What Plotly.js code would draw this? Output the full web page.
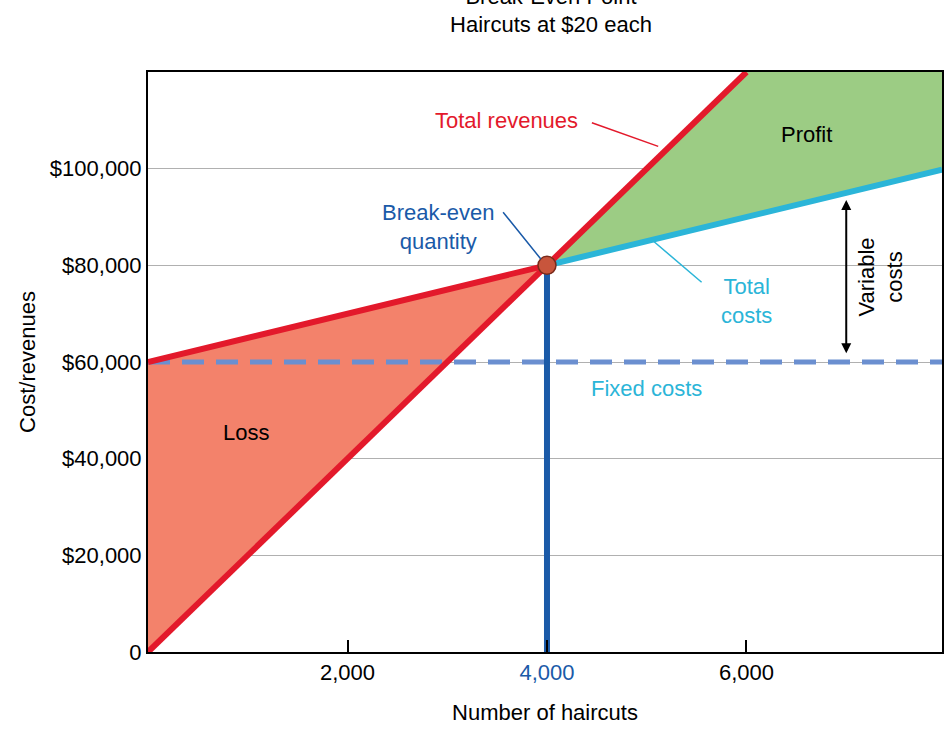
<!DOCTYPE html>
<html><head><meta charset="utf-8">
<script src="https://cdn.plot.ly/plotly-3.0.1.min.js"></script>
<style>body{margin:0}#chart{width:950px;height:743px}</style>
</head><body><div id="chart"></div>
<script>
var price = 20;
var fixedCost = 60000;
var unitVarCost = 5;
var breakEvenQty = 4000;
var xMax = 7960;
var yMax = 120000;
var xTicks = [2000, 4000, 6000];
var xTickText = ['2,000', '<span style="color:#1a5aa8">4,000</span>', '6,000'];
var yTicks = [0, 20000, 40000, 60000, 80000, 100000];
var yTickText = ['0', '$20,000', '$40,000', '$60,000', '$80,000', '$100,000'];

var beY = price * breakEvenQty;
var revTopX = yMax / price;
var costEnd = fixedCost + unitVarCost * xMax;

var traces = [
  {x: [0, 0, breakEvenQty], y: [0, fixedCost, beY], fill: 'toself', fillcolor: '#f3826b', mode: 'none', hoverinfo: 'skip'},
  {x: [breakEvenQty, revTopX, xMax, xMax], y: [beY, yMax, yMax, costEnd], fill: 'toself', fillcolor: '#9ccc84', mode: 'none', hoverinfo: 'skip'},
  {x: [0, xMax], y: [fixedCost, fixedCost], mode: 'lines', line: {color: '#6b8fd0', width: 5, dash: '22px,12px'}},
  {x: [breakEvenQty, breakEvenQty], y: [0, beY], mode: 'lines', line: {color: '#1a5aa8', width: 6}},
  {x: [breakEvenQty, xMax], y: [beY, costEnd], mode: 'lines', line: {color: '#2bb5d8', width: 6}},
  {x: [0, breakEvenQty], y: [fixedCost, beY], mode: 'lines', line: {color: '#e3192b', width: 6}},
  {x: [0, revTopX], y: [0, yMax], mode: 'lines', line: {color: '#e3192b', width: 6}},
  {x: [breakEvenQty], y: [beY], mode: 'markers', marker: {size: 18, color: '#c8553c', line: {color: '#7a2a1a', width: 1.5}}}
];

var FS = 22;
var f = {family: 'Liberation Sans, Arial, sans-serif', size: FS, color: '#000'};
function cf(c) { return {family: f.family, size: FS, color: c}; }
var annotations = [
  {x: 4330, y: 109900, text: 'Total revenues', showarrow: false, xanchor: 'right', font: cf('#e3192b')},
  {x: 4450, y: 109500, ax: 5130, ay: 104500, axref: 'x', ayref: 'y', text: '', showarrow: true, arrowhead: 0, arrowwidth: 1.5, arrowcolor: '#e3192b'},
  {x: 3500, y: 88000, text: 'Break-even<br>quantity', showarrow: false, xanchor: 'right', font: cf('#1a5aa8')},
  {x: 3560, y: 91000, ax: 3950, ay: 81000, axref: 'x', ayref: 'y', text: '', showarrow: true, arrowhead: 0, arrowwidth: 1.5, arrowcolor: '#1a5aa8'},
  {x: 6000, y: 72700, text: 'Total<br>costs', showarrow: false, xanchor: 'center', font: cf('#2bb5d8')},
  {x: 5550, y: 76500, ax: 5050, ay: 85300, axref: 'x', ayref: 'y', text: '', showarrow: true, arrowhead: 0, arrowwidth: 1.5, arrowcolor: '#2bb5d8'},
  {x: 5000, y: 54500, text: 'Fixed costs', showarrow: false, font: cf('#2bb5d8')},
  {x: 6600, y: 107000, text: 'Profit', showarrow: false, font: f},
  {x: 980, y: 45500, text: 'Loss', showarrow: false, font: f},
  {x: 7000, y: 93500, ax: 7000, ay: 61500, axref: 'x', ayref: 'y', text: '', showarrow: true, arrowhead: 2, arrowside: 'end+start', arrowwidth: 2, arrowcolor: '#000'},
  {x: 7350, y: 77500, text: 'Variable<br>costs', showarrow: false, textangle: -90, font: f}
];

var layout = {
  width: 950, height: 743, showlegend: false,
  margin: {l: 148, r: 8, t: 72, b: 91},
  paper_bgcolor: '#fff', plot_bgcolor: '#fff',
  title: {text: 'Break-Even Point<br>Haircuts at $20 each', x: 0.58, y: 0.995, yanchor: 'top', font: cf('#000')},
  xaxis: {range: [0, xMax], tickvals: xTicks, ticktext: xTickText, ticks: 'inside', ticklen: 12, tickwidth: 1.5, tickcolor: '#000',
    showgrid: false, zeroline: false, showline: true, linecolor: '#000', linewidth: 2, mirror: true,
    tickfont: f, title: {text: 'Number of haircuts', font: f, standoff: 20}},
  yaxis: {range: [0, yMax], tickvals: yTicks, ticktext: yTickText, ticks: '', showgrid: true, gridcolor: '#b0b0b0', gridwidth: 1,
    zeroline: false, showline: true, linecolor: '#000', linewidth: 2, mirror: true,
    tickfont: f, title: {text: 'Cost/revenues', font: f, standoff: 8}},
  annotations: annotations
};
Plotly.newPlot('chart', traces, layout, {displayModeBar: false});
</script></body></html>
